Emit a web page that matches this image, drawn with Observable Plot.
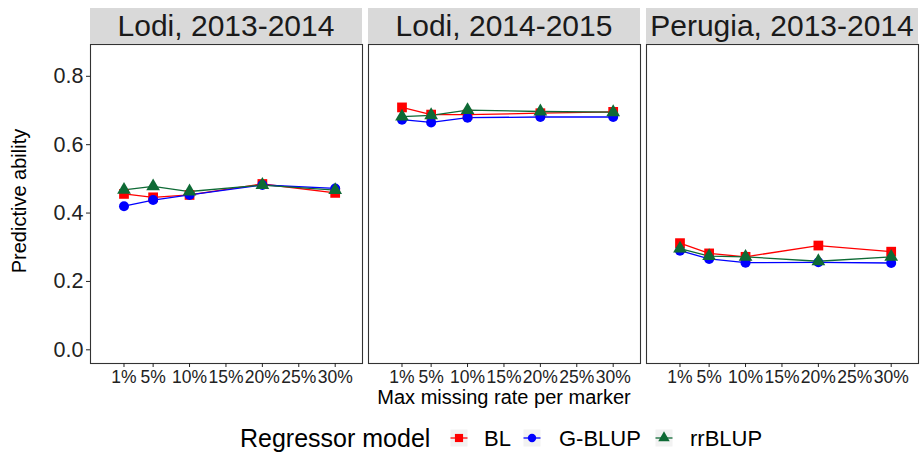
<!DOCTYPE html>
<html>
<head>
<meta charset="utf-8">
<script src="https://cdn.jsdelivr.net/npm/d3@7"></script>
<script src="https://cdn.jsdelivr.net/npm/@observablehq/plot@0.6"></script>
<style>
  body { margin: 0; background: #fff; font-family: "Liberation Sans", Arial, sans-serif; }
  #wrap { position: relative; width: 921px; height: 452px; overflow: hidden; background: #fff; }
  #wrap svg { position: absolute; top: 0; overflow: visible; }
  .strip { position: absolute; top: 8px; height: 36px; background: #d9d9d9; color: #1a1a1a;
           font-size: 30px; display: flex; justify-content: center; align-items: center;
           white-space: nowrap; z-index: 2; }
  .ytitle { position: absolute; left: 19px; top: 201px; font-size: 20px; color: #000;
            transform: translate(-50%, -50%) rotate(-90deg); white-space: nowrap; z-index: 2; }
  .xtitle { position: absolute; left: 504px; top: 397px; font-size: 20px; color: #000;
            transform: translate(-50%, -50%); white-space: nowrap; z-index: 2; }
</style>
</head>
<body>
<div id="wrap"></div>
<script>
// ---------- data ----------
const panels = ["Lodi, 2013-2014", "Lodi, 2014-2015", "Perugia, 2013-2014"];
const models = ["BL", "G-BLUP", "rrBLUP"];
const missingRates = [1, 5, 10, 20, 30];
const xTicks = [1, 5, 10, 15, 20, 25, 30];
const yTicks = [0, 0.2, 0.4, 0.6, 0.8];

const lodi1314_BL     = [0.456, 0.446, 0.453, 0.485, 0.459];
const lodi1314_GBLUP  = [0.420, 0.438, 0.453, 0.482, 0.472];
const lodi1314_rrBLUP = [0.468, 0.478, 0.463, 0.482, 0.467];

const lodi1415_BL     = [0.709, 0.688, 0.688, 0.692, 0.696];
const lodi1415_GBLUP  = [0.673, 0.665, 0.679, 0.681, 0.681];
const lodi1415_rrBLUP = [0.682, 0.686, 0.701, 0.697, 0.695];

const perugia1314_BL     = [0.312, 0.282, 0.272, 0.305, 0.287];
const perugia1314_GBLUP  = [0.290, 0.266, 0.255, 0.256, 0.254];
const perugia1314_rrBLUP = [0.296, 0.274, 0.272, 0.259, 0.272];

// ---------- styles ----------
const modelColors = ["#ff0000", "#0000ff", "#0e6a35"];
const modelSymbols = ["square", "circle", "triangle"];
const modelR = { "BL": 5.5, "G-BLUP": 5.0, "rrBLUP": 5.1 };

const series = [
  [lodi1314_BL, lodi1314_GBLUP, lodi1314_rrBLUP],
  [lodi1415_BL, lodi1415_GBLUP, lodi1415_rrBLUP],
  [perugia1314_BL, perugia1314_GBLUP, perugia1314_rrBLUP]
];

const rows = [];
panels.forEach((p, pi) => models.forEach((m, mi) => missingRates.forEach((r, ri) => {
  rows.push({ panel: p, model: m, rate: r, value: series[pi][mi][ri] });
})));

// ---------- layout ----------
const panelLeft = [90, 368, 646];
const panelWidth = 272;
const panelTop = 44, panelBottom = 363, H = 452;

const wrap = document.getElementById("wrap");

panels.forEach((p, pi) => {
  const mL = pi === 0 ? 90 : 3;
  const mR = 3;
  const data = rows.filter(d => d.panel === p);
  const marks = [
    Plot.frame({ stroke: "#333", strokeWidth: 1.1 }),
    Plot.axisX(xTicks, { tickFormat: d => d + "%", tickSize: 4, tickPadding: 3,
                         fontSize: 17.5, label: null, color: "#222" }),
  ];
  if (pi === 0) {
    marks.push(Plot.axisY(yTicks, { tickFormat: d3.format(".1f"), tickSize: 4, tickPadding: 3,
                                    fontSize: 21.5, label: null, color: "#222" }));
  }
  marks.push(Plot.line(data, { x: "rate", y: "value", stroke: "model", z: "model", strokeWidth: 1.3 }));
  models.forEach(m => {
    marks.push(Plot.dot(data.filter(d => d.model === m),
      { x: "rate", y: "value", fill: "model", symbol: "model", r: modelR[m] }));
  });
  const chart = Plot.plot({
    width: mL + panelWidth + mR,
    height: H,
    marginLeft: mL, marginRight: mR,
    marginTop: panelTop, marginBottom: H - panelBottom,
    x: { domain: [-3.6, 33.75], axis: null },
    y: { domain: [-0.04, 0.893], axis: pi === 0 ? undefined : null },
    color: { domain: models, range: modelColors },
    symbol: { domain: models, range: modelSymbols },
    style: { color: "#333", background: "transparent", fontFamily: "Liberation Sans, Arial, sans-serif" },
    marks
  });
  chart.style.left = (panelLeft[pi] - mL) + "px";
  wrap.appendChild(chart);

  const strip = document.createElement("div");
  strip.className = "strip";
  strip.style.left = panelLeft[pi] + "px";
  strip.style.width = panelWidth + "px";
  strip.textContent = p;
  wrap.appendChild(strip);
});

const yt = document.createElement("div");
yt.className = "ytitle"; yt.textContent = "Predictive ability";
wrap.appendChild(yt);
const xt = document.createElement("div");
xt.className = "xtitle"; xt.textContent = "Max missing rate per marker";
wrap.appendChild(xt);

// ---------- legend ----------
const leg = d3.select(wrap).append("svg")
  .attr("width", 921).attr("height", 40)
  .style("top", "418px").style("left", "0px")
  .style("font-family", "Liberation Sans, Arial, sans-serif");
leg.append("text").attr("x", 240).attr("y", 20).attr("dy", "0.35em")
  .attr("font-size", 25).attr("fill", "#000").text("Regressor model");
const keyX = [459, 532, 664];
const labelX = [484, 559, 690];
const symMap = { square: d3.symbolSquare, circle: d3.symbolCircle, triangle: d3.symbolTriangle };
models.forEach((m, i) => {
  const g = leg.append("g").attr("transform", `translate(${keyX[i]},20)`);
  g.append("rect").attr("x", -8.5).attr("y", -8.5).attr("width", 17).attr("height", 17).attr("fill", "#f2f2f2");
  g.append("line").attr("x1", -8.5).attr("x2", 8.5).attr("stroke", modelColors[i]).attr("stroke-width", 1.3);
  g.append("path").attr("d", d3.symbol(symMap[modelSymbols[i]], Math.PI * modelR[m] * modelR[m] * 0.7)())
    .attr("fill", modelColors[i]);
  leg.append("text").attr("x", labelX[i]).attr("y", 20).attr("dy", "0.35em")
    .attr("font-size", 22).attr("fill", "#000").text(m);
});
</script>
</body>
</html>
